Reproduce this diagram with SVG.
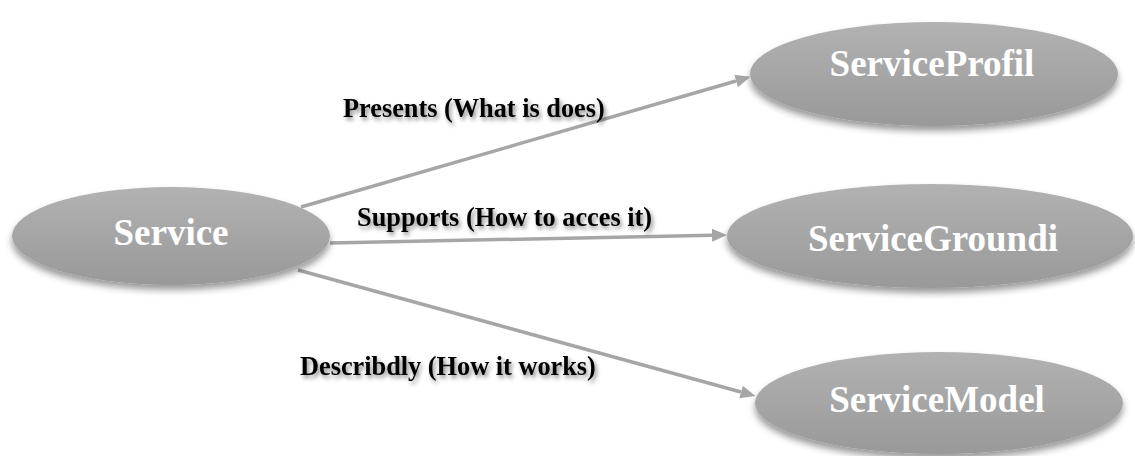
<svg xmlns="http://www.w3.org/2000/svg" width="1135" height="456" viewBox="0 0 1135 456">
<style>
.node{fill:url(#g);filter:url(#ns);}
.nt{font-family:"Liberation Serif","Times New Roman",serif;font-weight:bold;font-size:37px;fill:#ffffff;text-anchor:middle;}
.edge{stroke:#a6a6a6;stroke-width:3.5;fill:none;marker-end:url(#arr);}
.lbl{font-family:"Liberation Serif","Times New Roman",serif;font-weight:bold;font-size:26.3px;fill:#000;filter:url(#ts);}
</style>
<defs>
<linearGradient id="g" x1="0" y1="0" x2="0" y2="1">
<stop offset="0" stop-color="#b2b2b2"/>
<stop offset="1" stop-color="#999999"/>
</linearGradient>
<filter id="ns" x="-10%" y="-20%" width="120%" height="150%">
<feDropShadow dx="0" dy="5" stdDeviation="3.5" flood-color="#000" flood-opacity="0.4"/>
</filter>
<filter id="ts" x="-5%" y="-30%" width="110%" height="170%">
<feDropShadow dx="2" dy="3" stdDeviation="2" flood-color="#000" flood-opacity="0.45"/>
</filter>
<marker id="arr" markerUnits="userSpaceOnUse" markerWidth="16" markerHeight="14" refX="0" refY="6.5" orient="auto">
<path d="M0,0 L15,6.5 L0,13 z" fill="#a6a6a6"/>
</marker>
</defs>
<g id="connectors">
<line class="edge" x1="301" y1="207" x2="736" y2="81"/>
<line class="edge" x1="330" y1="243" x2="712" y2="235.3"/>
<line class="edge" x1="298" y1="270" x2="741" y2="392"/>
<text class="lbl" x="343" y="117">Presents (What is does)</text>
<text class="lbl" x="357" y="226">Supports (How to acces it)</text>
<text class="lbl" x="300" y="375">Describdly (How it works)</text>
</g>
<g id="service">
<ellipse class="node" cx="171" cy="236" rx="159" ry="49"/>
<text class="nt" x="171" y="245">Service</text>
</g>
<g id="serviceprofil">
<ellipse class="node" cx="934" cy="74" rx="184" ry="52"/>
<text class="nt" x="932" y="76">ServiceProfil</text>
</g>
<g id="servicegroundi">
<ellipse class="node" cx="930" cy="236" rx="203" ry="52"/>
<text class="nt" x="933" y="251">ServiceGroundi</text>
</g>
<g id="servicemodel">
<ellipse class="node" cx="939" cy="403" rx="184" ry="51"/>
<text class="nt" x="937" y="412">ServiceModel</text>
</g>
</svg>
